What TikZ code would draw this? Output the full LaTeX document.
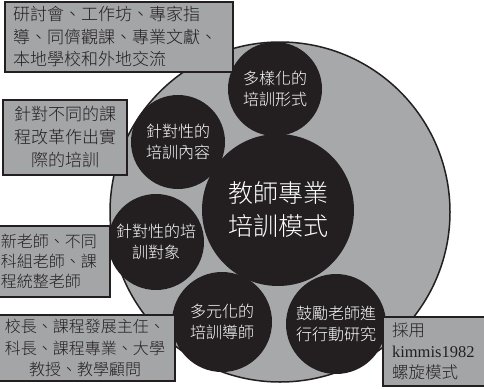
\documentclass[tikz,border=0pt]{standalone}
\usepackage{fontspec}
\newfontfamily\cjk{Noto Sans CJK TC}[UprightFont=* Light]
\newfontfamily\lserif{Liberation Serif}
\definecolor{ink}{HTML}{231F20}
\definecolor{discgray}{HTML}{A7A8AA}
\definecolor{boxgray}{HTML}{A4A5A7}
\begin{document}
\begin{tikzpicture}[x=1pt,y=-1pt,
  blackdisc/.style={circle, fill=ink, inner sep=0pt, text=white, align=center,
    font=\cjk\fontsize{16}{20.5}\selectfont},
  infobox/.style={draw=ink, line width=2pt, fill=boxgray, inner sep=0pt, text=ink,
    font=\cjk\fontsize{16}{21}\selectfont}]
\useasboundingbox (0,0) rectangle (484,388);
\fill[white] (0,0) rectangle (484,388);
% big grey disc
\node[circle, draw=ink, line width=1.5pt, fill=discgray, minimum size=340pt, inner sep=0pt] (outer) at (280,212) {};
% black discs
\node[blackdisc, minimum size=152pt, font=\cjk\fontsize{25}{33}\selectfont] (core) at (278,210) {教師專業\\培訓模式};
\node[blackdisc, minimum size=94pt] (form) at (275,89) {多樣化的\\培訓形式};
\node[blackdisc, minimum size=94pt] (content) at (178,142) {針對性的\\培訓內容};
\node[blackdisc, minimum size=96pt] (target) at (156,242) {針對性的培\\訓對象};
\node[blackdisc, minimum size=100pt] (mentor) at (222,322) {多元化的\\培訓導師};
\node[blackdisc, minimum size=100pt] (research) at (336,324) {鼓勵老師進\\行行動研究};
% boxes
\node[infobox, minimum width=228pt, minimum height=70pt, text width=212pt, align=left,
  font=\cjk\fontsize{17}{22.5}\selectfont] (b1) at (119,37)
  {研討會、工作坊、專家指\\導、同儕觀課、專業文獻、\\本地學校和外地交流};
\node[infobox, minimum width=124pt, minimum height=75pt, text width=110pt, align=center,
  font=\cjk\fontsize{17}{23}\selectfont] (b2) at (65,137.5)
  {針對不同的課\\程改革作出實\\際的培訓};
\node[infobox, minimum width=115pt, minimum height=71pt, text width=103pt, align=left,
  font=\cjk\fontsize{16}{20}\selectfont] (b3) at (52.5,261.5)
  {新老師、不同\\科組老師、課\\程統整老師};
\node[infobox, minimum width=180pt, minimum height=66pt, text width=170pt, align=center,
  font=\cjk\fontsize{16}{21.5}\selectfont] (b4) at (85,348)
  {校長、課程發展主任、\\科長、課程專業、大學\\教授、教學顧問};
\node[infobox, minimum width=109pt, minimum height=69pt, text width=91pt, align=left,
  font=\cjk\fontsize{16.5}{21}\selectfont] (b5) at (437.5,351.5)
  {採用\\{\lserif kimmis1982}\\螺旋模式};
\end{tikzpicture}
\end{document}
